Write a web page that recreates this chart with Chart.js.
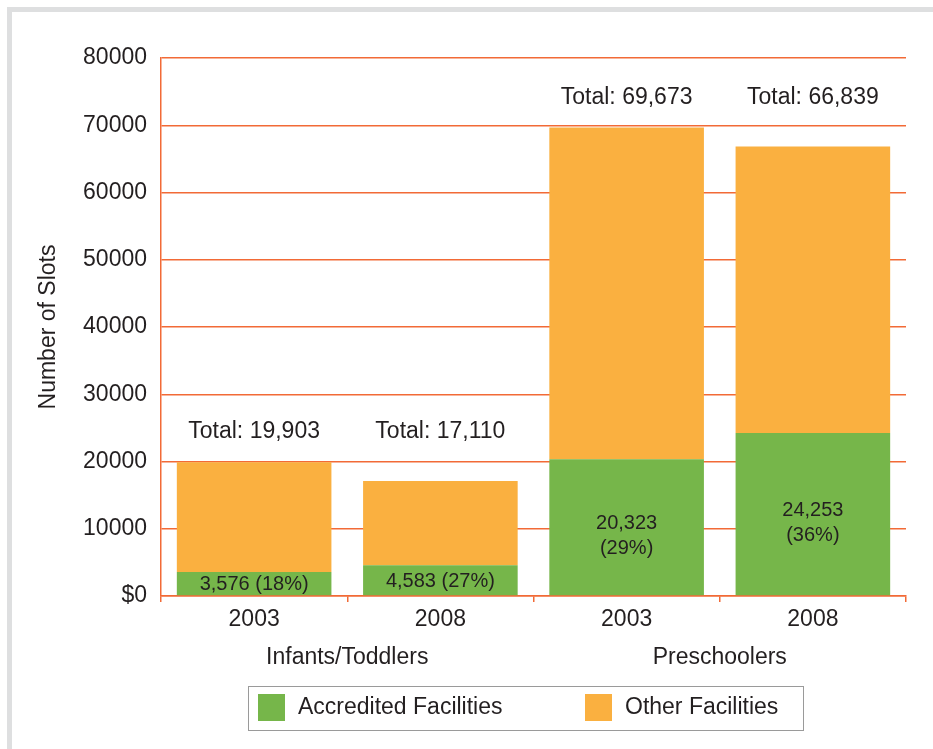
<!DOCTYPE html>
<html>
<head>
<meta charset="utf-8">
<title>Child care slots by facility type</title>
<script src="https://cdn.jsdelivr.net/npm/chart.js@4.4.1/dist/chart.umd.min.js"></script>
<style>
  html, body { margin: 0; padding: 0; background: #fff; }
  #wrap { position: relative; width: 933px; height: 749px; overflow: hidden; }
  #frame {
    position: absolute; left: 7px; top: 7px; right: 0; bottom: 0;
    border-top: 5px solid #dedfe0; border-left: 5px solid #dedfe0;
  }
  #chart { position: absolute; left: 0; top: 0; }
</style>
</head>
<body>
<div id="wrap">
  <div id="frame"></div>
  <canvas id="chart" width="933" height="749"></canvas>
</div>
<script>
const years = ['2003', '2008', '2003', '2008'];
const groups = ['Infants/Toddlers', 'Preschoolers'];
const accredited = [3576, 4583, 20323, 24253];
const totals = [19903, 17110, 69673, 66839];
const other = totals.map((t, i) => t - accredited[i]);

const green = '#76b64a';
const orange = '#fab040';
const rule = '#f26a36';
const ink = '#231f20';
const fontFamily = "'Liberation Sans', Arial, Helvetica, sans-serif";

Chart.defaults.font.family = fontFamily;
Chart.defaults.color = ink;

const fmt = n => n.toLocaleString('en-US');

// totals over each bar, share of accredited slots inside the green part
const barLabels = {
  id: 'barLabels',
  afterDatasetsDraw(chart) {
    const { ctx } = chart;
    const y = chart.scales.y;
    const greenBars = chart.getDatasetMeta(0).data;
    ctx.save();
    ctx.fillStyle = ink;
    ctx.textAlign = 'center';
    ctx.textBaseline = 'middle';

    ctx.font = '23px ' + fontFamily;
    totals.forEach((t, i) => {
      const g = Math.floor(i * groups.length / years.length);
      const inGroup = totals.filter((_, j) => Math.floor(j * groups.length / years.length) === g);
      const top = y.getPixelForValue(Math.max(...inGroup));
      ctx.fillText('Total: ' + fmt(t), greenBars[i].x, top - 30);
    });

    ctx.font = '20px ' + fontFamily;
    accredited.forEach((v, i) => {
      const bar = greenBars[i];
      const pct = '(' + Math.round(v / totals[i] * 100) + '%)';
      const mid = (bar.y + bar.base) / 2;
      if (bar.base - bar.y > 70) {
        ctx.fillText(fmt(v), bar.x, mid - 4);
        ctx.fillText(pct, bar.x, mid + 21);
      } else {
        ctx.fillText(fmt(v) + ' ' + pct, bar.x, mid + 1);
      }
    });
    ctx.restore();
  }
};

// boxed legend under the axis
const boxLegend = {
  id: 'boxLegend',
  afterDraw(chart) {
    const { ctx } = chart;
    const itemX = [258, 585];
    ctx.save();
    ctx.strokeStyle = '#9a9a9a';
    ctx.lineWidth = 1;
    ctx.strokeRect(248.5, 686.5, 555, 44);
    ctx.font = '23px ' + fontFamily;
    ctx.textBaseline = 'middle';
    ctx.textAlign = 'left';
    chart.data.datasets.forEach((ds, i) => {
      ctx.fillStyle = ds.backgroundColor;
      ctx.fillRect(itemX[i], 694, 27, 27);
      ctx.fillStyle = ink;
      ctx.fillText(ds.label, itemX[i] + 40, 708);
    });
    ctx.restore();
  }
};

new Chart(document.getElementById('chart'), {
  type: 'bar',
  data: {
    labels: years,
    datasets: [
      { label: 'Accredited Facilities', data: accredited, backgroundColor: green },
      { label: 'Other Facilities', data: other, backgroundColor: orange },
    ],
  },
  options: {
    responsive: false,
    devicePixelRatio: 1,
    animation: false,
    barPercentage: 0.83,
    categoryPercentage: 1,
    layout: { padding: { left: 0, right: 27, top: 58, bottom: 77 } },
    plugins: {
      legend: { display: false },
      tooltip: { enabled: false },
    },
    scales: {
      x: {
        stacked: true,
        weight: 0,
        offset: true,
        grid: { display: true, drawOnChartArea: false, offset: true, color: rule, lineWidth: 1.5, tickLength: 6 },
        border: { display: true, color: rule, width: 1.5 },
        ticks: { font: { size: 23 }, color: ink, padding: 4 },
        afterFit: s => { s.height = 36; },
      },
      groups: {
        type: 'category',
        labels: groups,
        position: 'bottom',
        weight: 1,
        offset: true,
        grid: { display: false },
        border: { display: false },
        ticks: { font: { size: 23 }, color: ink, padding: 4 },
        afterFit: s => { s.height = 40; },
      },
      y: {
        stacked: true,
        min: 0,
        max: 80000,
        ticks: {
          stepSize: 10000,
          font: { size: 23 },
          color: ink,
          padding: 14,
          callback: v => v === 0 ? '$0' : String(v),
        },
        grid: { color: rule, lineWidth: 1.5, drawTicks: false },
        border: { display: true, color: rule, width: 1.5 },
        title: {
          display: true,
          text: 'Number of Slots',
          font: { size: 23 },
          color: ink,
          padding: { top: 35, bottom: 0 },
        },
        afterFit: s => { s.width = 161; },
      },
    },
  },
  plugins: [barLabels, boxLegend],
});
</script>
</body>
</html>
